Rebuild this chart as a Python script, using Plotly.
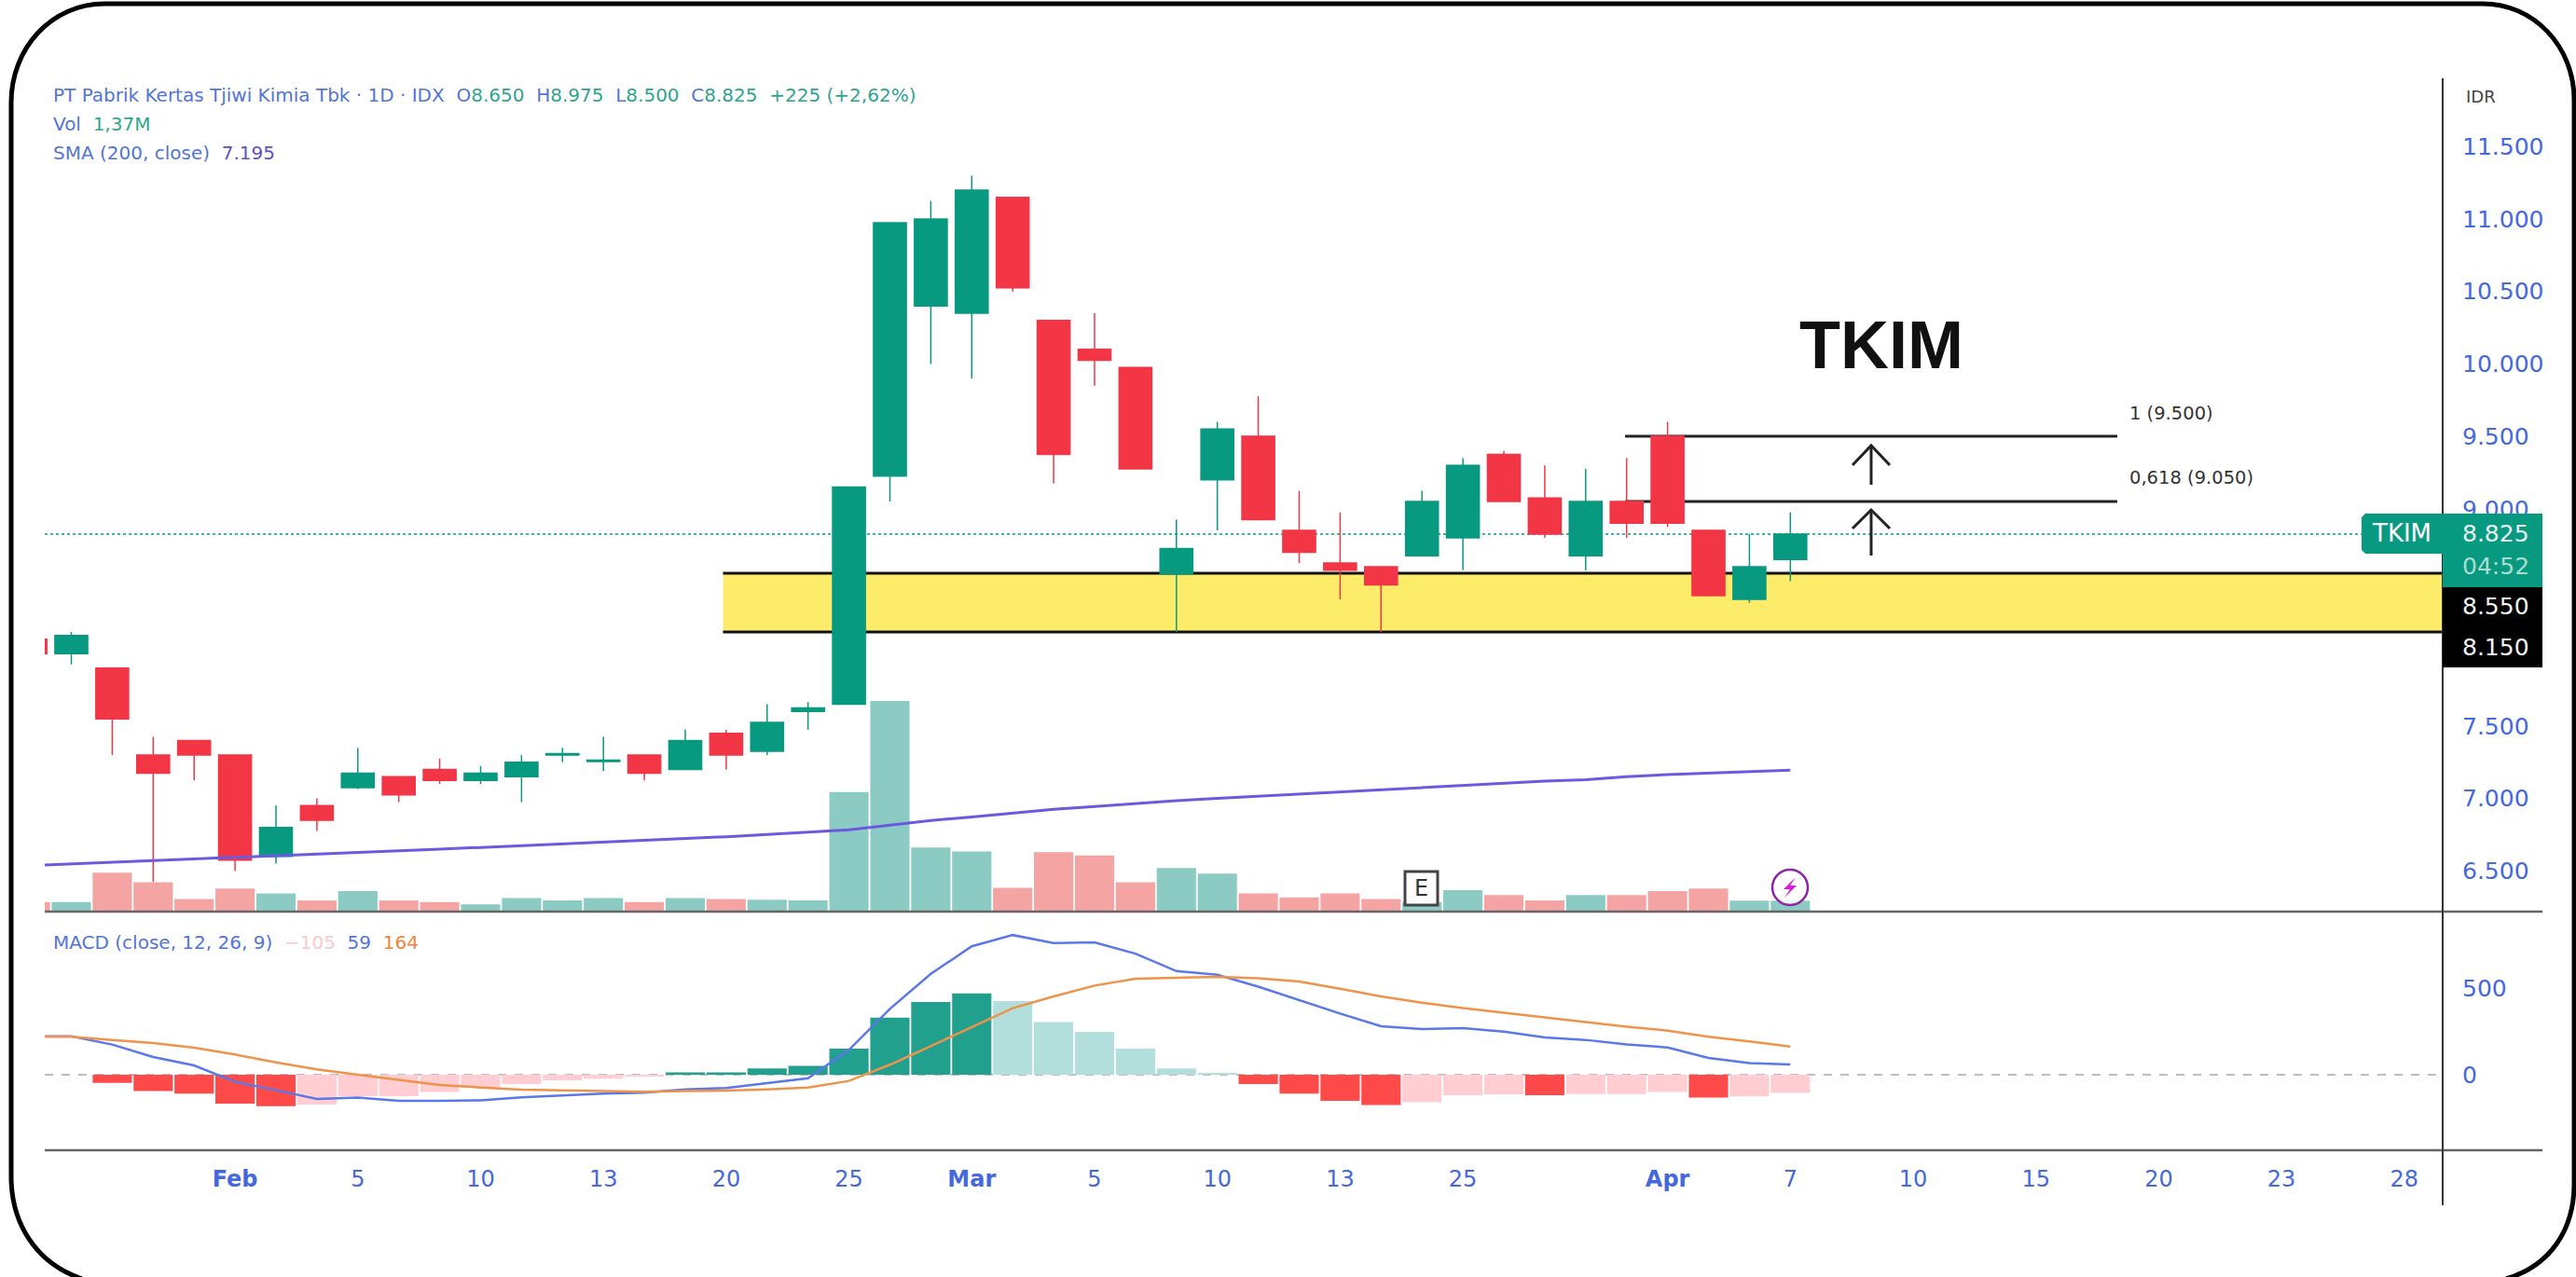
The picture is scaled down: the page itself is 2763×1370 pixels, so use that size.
import plotly.graph_objects as go

W, H = 2763, 1370

candle_index = list(range(-1, 43))
opens = [8100, 8000, 7900, 7300, 7400, 7300, 6600, 6950, 7075, 7150, 7200, 7125, 7150, 7300, 7255, 7300, 7200, 7450, 7325, 7600, 7650,
         9225, 10400, 10350, 11150, 10300, 10100, 9975, 8550, 9200, 9500, 8850, 8625, 8600, 8675, 8800, 9375, 9075, 8675, 9050, 9500, 8850, 8375, 8650]
highs = [8150, 8150, 7900, 7425, 7400, 7300, 6950, 7000, 7350, 7150, 7275, 7225, 7300, 7350, 7425, 7300, 7475, 7475, 7650, 7665, 9150,
         10975, 11125, 11300, 11150, 10300, 10350, 9975, 8925, 9600, 9775, 9125, 8975, 8600, 9125, 9350, 9400, 9300, 9275, 9350, 9600, 8850, 8825, 8975]
lows = [7950, 7925, 7300, 6425, 7125, 6500, 6550, 6775, 7065, 6975, 7100, 7100, 6975, 7250, 7190, 7125, 7200, 7200, 7300, 7475, 7650,
        9050, 10000, 9900, 10500, 9175, 9850, 9275, 8150, 8850, 8925, 8625, 8375, 8150, 8675, 8575, 9050, 8800, 8575, 8800, 8875, 8400, 8350, 8500]
closes = [8000, 8125, 7550, 7175, 7300, 6575, 6800, 6850, 7175, 7025, 7125, 7175, 7250, 7310, 7265, 7175, 7400, 7300, 7525, 7625, 9150,
          10975, 11000, 11200, 10525, 9375, 10025, 9275, 8725, 9550, 8925, 8700, 8575, 8475, 9050, 9300, 9050, 8825, 9050, 8900, 8900, 8400, 8600, 8825]
sma_200 = [6537, 6548, 6559, 6570, 6581, 6591, 6602, 6614, 6626, 6638, 6650, 6662, 6674, 6686, 6697, 6709, 6720, 6736, 6751, 6767, 6784,
           6816, 6848, 6872, 6900, 6925, 6945, 6965, 6985, 7000, 7015, 7030, 7045, 7060, 7075, 7090, 7105, 7120, 7130, 7150, 7165, 7175, 7185, 7195]
volume_m = [1.2, 1.2, 4.9, 3.7, 1.6, 2.9, 2.3, 1.4, 2.6, 1.4, 1.2, 0.9, 1.7, 1.4, 1.7, 1.2, 1.7, 1.6, 1.5, 1.4, 15.1,
            26.6, 8.1, 7.6, 3.0, 7.5, 7.1, 3.7, 5.5, 4.8, 2.3, 1.8, 2.3, 1.6, 1.2, 2.7, 2.1, 1.4, 2.1, 2.1, 2.6, 2.9, 1.37, 1.37]
macd_hist = [0, 0, -47, -95, -110, -168, -182, -173, -124, -124, -100, -74, -54, -32, -23, -10, 13, 13, 36, 52, 151,
             331, 421, 472, 427, 306, 249, 151, 36, 10, -54, -110, -151, -175, -159, -119, -113, -119, -112, -112, -100, -133, -126, -105]
macd_line = [223, 223, 175, 103, 54, -41, -90, -140, -133, -151, -151, -148, -131, -120, -110, -104, -85, -77, -47, -20, 144,
             382, 585, 745, 810, 763, 767, 702, 601, 580, 511, 432, 355, 281, 265, 270, 250, 216, 202, 176, 158, 97, 67, 59]
macd_signal = [220, 220, 202, 184, 157, 117, 72, 31, 0, -29, -59, -74, -86, -90, -94, -99, -94, -92, -85, -74, -36,
               58, 166, 274, 386, 454, 517, 557, 564, 568, 559, 541, 499, 454, 418, 386, 360, 332, 305, 279, 256, 220, 193, 164]

x_tick_positions = [4, 7, 10, 13, 16, 19, 22, 25, 28, 31, 34, 39, 42, 45, 48, 51, 54, 57]
x_tick_labels = ["<b>Feb</b>", "5", "10", "13", "20", "25", "<b>Mar</b>", "5", "10", "13", "25", "<b>Apr</b>", "7", "10", "15", "20", "23", "28"]
price_ticks = [6500, 7000, 7500, 8000, 8500, 9000, 9500, 10000, 10500, 11000, 11500]
price_tick_labels = ["6.500", "7.000", "7.500", "", "", "9.000", "9.500", "10.000", "10.500", "11.000", "11.500"]
macd_ticks = [0, 500]

zone_top, zone_bottom = 8555, 8150
fib_levels = [9500, 9050]
last_price = 8825

GREEN, RED = "#089981", "#F23645"
TICK_BLUE = "#4468DE"
LEG_BLUE = "#5375D6"
FONT = "DejaVu Sans"
BAR0, BAR_STEP = 76.5, 43.9


def px(x):
    return x / W


def py(y):
    return 1 - y / H


def bar_at(x):
    return (x - BAR0) / BAR_STEP


def poly(points, close=True):
    body = " L ".join(f"{px(a):.5f},{py(b):.5f}" for a, b in points)
    return "M " + body + (" Z" if close else "")


vol_colors = ["#8CCBC3" if c >= o else "#F5A4A4" for o, c in zip(opens, closes)]
hist_colors = []
prev = 0
for h in macd_hist:
    if h >= 0:
        hist_colors.append("#22A08E" if h >= prev else "#B2DFDB")
    else:
        hist_colors.append("#FF4A4A" if h < prev else "#FFCDD2")
    prev = h

fig = go.Figure()
fig.add_bar(x=candle_index, y=volume_m, marker=dict(color=vol_colors, line_width=0), yaxis="y", xaxis="x")
fig.add_candlestick(
    x=candle_index, open=opens, high=highs, low=lows, close=closes, yaxis="y2", xaxis="x",
    increasing=dict(line=dict(color=GREEN, width=1.5), fillcolor=GREEN),
    decreasing=dict(line=dict(color=RED, width=1.5), fillcolor=RED),
    whiskerwidth=0,
)
fig.add_scatter(x=candle_index, y=sma_200, mode="lines", line=dict(color="#6A5AE0", width=3), yaxis="y2", xaxis="x")
fig.add_bar(x=candle_index, y=macd_hist, marker=dict(color=hist_colors, line_width=0), yaxis="y3", xaxis="x")
fig.add_scatter(x=candle_index, y=macd_line, mode="lines", line=dict(color="#5B78E8", width=2.5), yaxis="y3", xaxis="x")
fig.add_scatter(x=candle_index, y=macd_signal, mode="lines", line=dict(color="#F0934A", width=2.5), yaxis="y3", xaxis="x")

X0 = bar_at(48)
X1 = bar_at(2620)
ZONE_X = bar_at(775.5)
shapes = [
    dict(type="rect", xref="x", yref="y2", x0=ZONE_X, x1=X1, y0=zone_bottom, y1=zone_top, fillcolor="#FDEC6A", line_width=0, layer="below"),
    dict(type="line", xref="x", yref="y2", x0=ZONE_X, x1=X1, y0=zone_top, y1=zone_top, line=dict(color="#111", width=3), layer="below"),
    dict(type="line", xref="x", yref="y2", x0=ZONE_X, x1=X1, y0=zone_bottom, y1=zone_bottom, line=dict(color="#111", width=3), layer="below"),
    dict(type="line", xref="x", yref="y2", x0=X0, x1=bar_at(2533), y0=last_price, y1=last_price, line=dict(color=GREEN, width=1.5, dash="dot"), layer="below"),
    dict(type="line", xref="x", yref="y3", x0=X0, x1=X1, y0=0, y1=0, line=dict(color="#BDBDBD", width=2, dash="dash"), layer="below"),
]
for lv in fib_levels:
    shapes.append(dict(type="line", xref="x", yref="y2", x0=bar_at(1743), x1=bar_at(2271), y0=lv, y1=lv, line=dict(color="#222", width=3), layer="below"))

# frame, separators, axis rule
shapes += [
    dict(type="line", xref="paper", yref="paper", x0=px(48), x1=px(2727), y0=py(978), y1=py(978), line=dict(color="#666", width=2.5)),
    dict(type="line", xref="paper", yref="paper", x0=px(48), x1=px(2727), y0=py(1234), y1=py(1234), line=dict(color="#666", width=2.5)),
    dict(type="line", xref="paper", yref="paper", x0=px(2620), x1=px(2620), y0=py(84), y1=py(1293), line=dict(color="#333", width=2)),
]
# price tags
for (x0, x1, y0, y1, col) in [(2620, 2727, 551, 630, GREEN), (2620, 2727, 630, 716, "#000000")]:
    shapes.append(dict(type="rect", xref="paper", yref="paper", x0=px(x0), x1=px(x1), y0=py(y0), y1=py(y1), fillcolor=col, line_width=0))
shapes.append(dict(type="path", xref="paper", yref="paper", fillcolor=GREEN, line_width=0,
                   path=poly([(2537, 551), (2622, 551), (2622, 594), (2537, 594), (2533, 590), (2533, 555)])))
# arrows
for tip, bottom, head in [(478, 520, 499), (547, 596, 567)]:
    shapes.append(dict(type="path", xref="paper", yref="paper", line=dict(color="#222", width=3),
                       path=poly([(2007, bottom), (2007, tip)], False)))
    shapes.append(dict(type="path", xref="paper", yref="paper", line=dict(color="#222", width=3),
                       path=poly([(1987, head), (2007, tip), (2027, head)], False)))
# event badges
shapes.append(dict(type="rect", xref="paper", yref="paper", x0=px(1507), x1=px(1542), y0=py(935), y1=py(971), fillcolor="#FFFFFF", line=dict(color="#444", width=3)))
shapes.append(dict(type="circle", xref="paper", yref="paper", x0=px(1901), x1=px(1939), y0=py(933), y1=py(971), fillcolor="rgba(255,255,255,0.8)", line=dict(color="#8E24AA", width=2.5)))
shapes.append(dict(type="path", xref="paper", yref="paper", fillcolor="#D81BD8", line_width=0,
                   path=poly([(1926, 941), (1913, 954), (1920, 954), (1914, 963), (1927, 950), (1920, 950)])))

frame = (
    f"M {px(12):.5f},{py(1262):.5f} L {px(12):.5f},{py(110):.5f} "
    f"C {px(12):.5f},{py(52):.5f} {px(55):.5f},{py(4):.5f} {px(112):.5f},{py(4):.5f} "
    f"L {px(2663):.5f},{py(4):.5f} "
    f"C {px(2718):.5f},{py(4):.5f} {px(2761):.5f},{py(50):.5f} {px(2761):.5f},{py(107):.5f} "
    f"L {px(2761):.5f},{py(1270):.5f} "
    f"C {px(2761):.5f},{py(1320):.5f} {px(2735):.5f},{py(1358):.5f} {px(2688):.5f},{py(1372):.5f} "
    f"M {px(12):.5f},{py(1262):.5f} "
    f"C {px(12):.5f},{py(1312):.5f} {px(38):.5f},{py(1355):.5f} {px(88):.5f},{py(1372):.5f}"
)
shapes.append(dict(type="path", xref="paper", yref="paper", path=frame, line=dict(color="#000000", width=5)))


def note(x, y, text, size, color="#333", anchor="left", family=FONT):
    return dict(xref="paper", yref="paper", x=px(x), y=py(y), text=text, showarrow=False, xanchor=anchor, yanchor="middle",
                font=dict(size=size, color=color, family=family), align="left", borderpad=0, borderwidth=0)


def c(text, color):
    return f'<span style="color:{color}">{text}</span>'


sp = "\u00a0\u00a0"
V = "#2FA58E"
title_line = (
    c("PT Pabrik Kertas Tjiwi Kimia Tbk · 1D · IDX" + sp, LEG_BLUE)
    + c("O", LEG_BLUE) + c("8.650" + sp, V)
    + c("H", LEG_BLUE) + c("8.975" + sp, V)
    + c("L", LEG_BLUE) + c("8.500" + sp, V)
    + c("C", LEG_BLUE) + c("8.825" + sp, V)
    + c("+225 (+2,62%)", V)
)
annotations = [
    note(57, 102, title_line, 20),
    note(57, 133, c("Vol" + sp, LEG_BLUE) + c("1,37M", V), 20),
    note(57, 164, c("SMA (200, close)" + sp, LEG_BLUE) + c("7.195", "#5B52C8"), 20),
    note(57, 1011, c("MACD (close, 12, 26, 9)" + sp, LEG_BLUE) + c("−105", "#F9C9CE") + c(sp + "59", LEG_BLUE) + c(sp + "164", "#F0853A"), 20),
    note(2645, 103, "IDR", 18, "#444"),
    note(1930, 370, "<b>TKIM</b>", 72, "#111", family="Liberation Sans"),
    note(2284, 443, "1 (9.500)", 19.5, "#333"),
    note(2284, 512, "0,618 (9.050)", 19.5, "#333"),
    note(2576, 572, "TKIM", 26, "#FFFFFF", "center"),
    note(2641, 572, "8.825", 25, "#EAF6F3"),
    note(2641, 607, "04:52", 25, "#A9DDD2"),
    note(2641, 650, "8.550", 25, "#F2F2F2"),
    note(2641, 694, "8.150", 25, "#F2F2F2"),
    note(1524.5, 953, "E", 24, "#333", "center"),
]

pane_top, pane_mid, pane_bot = 84, 978, 1234
px_per_price = 0.1554
price_at = lambda y: 11500 - (y - 157.3) / px_per_price
px_per_macd = 0.185
macd_at = lambda y: (1153 - y) / px_per_macd

fig.update_layout(
    width=W, height=H,
    margin=dict(l=0, r=0, t=0, b=0, pad=0),
    paper_bgcolor="#FFFFFF", plot_bgcolor="#FFFFFF",
    showlegend=False, barmode="overlay", bargap=0.04, boxgap=0.2, boxgroupgap=0,
    font=dict(family=FONT),
    hovermode=False,
    shapes=shapes, annotations=annotations,
    xaxis=dict(
        domain=[px(48), px(2620)], range=[X0, X1], anchor="y3", type="linear",
        tickmode="array", tickvals=x_tick_positions, ticktext=x_tick_labels,
        tickfont=dict(size=24, color=TICK_BLUE, family=FONT),
        ticks="", ticklabelstandoff=14, showgrid=False, zeroline=False, showline=False,
        rangeslider=dict(visible=False),
    ),
    yaxis=dict(domain=[py(pane_mid), py(pane_top)], range=[0, (pane_mid - pane_top) / 8.5], visible=False, fixedrange=True),
    yaxis2=dict(
        domain=[py(pane_mid), py(pane_top)], overlaying="y", side="right", anchor="x",
        range=[price_at(pane_mid), price_at(pane_top)],
        tickmode="array", tickvals=price_ticks, ticktext=price_tick_labels,
        tickfont=dict(size=25, color=TICK_BLUE, family=FONT),
        ticks="", ticklabelstandoff=20, showgrid=False, zeroline=False, showline=False,
    ),
    yaxis3=dict(
        domain=[py(pane_bot), py(pane_mid)], side="right", anchor="x",
        range=[macd_at(pane_bot), macd_at(pane_mid)],
        tickmode="array", tickvals=macd_ticks, ticktext=[str(t) for t in macd_ticks],
        tickfont=dict(size=25, color=TICK_BLUE, family=FONT),
        ticks="", ticklabelstandoff=20, showgrid=False, zeroline=False, showline=False,
    ),
)

fig.write_html("out.html", config=dict(displayModeBar=False),
               post_script="document.body.style.margin='0';document.documentElement.style.overflow='hidden';")
